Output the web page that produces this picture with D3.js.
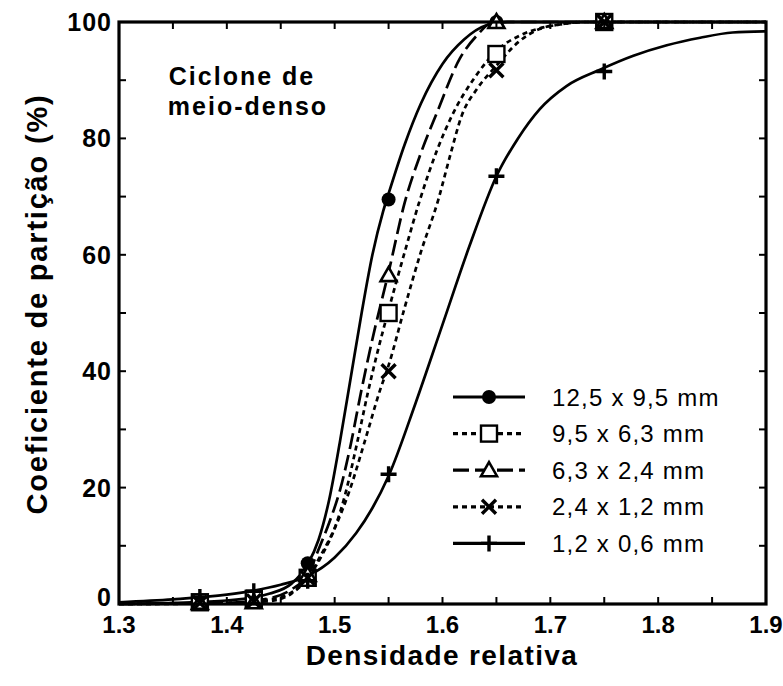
<!DOCTYPE html>
<html><head><meta charset="utf-8">
<script src="https://cdn.jsdelivr.net/npm/d3@7"></script>
<style>body{margin:0;background:#fff}svg{display:block}text{font-family:Arial,"Liberation Sans",sans-serif}</style>
</head><body>
<svg id="c" width="783" height="686"></svg>
<script>
const seriesNames = ["12,5 x 9,5 mm","9,5 x 6,3 mm","6,3 x 2,4 mm","2,4 x 1,2 mm","1,2 x 0,6 mm"];
const xTicks = [1.3,1.4,1.5,1.6,1.7,1.8,1.9];
const yTicks = [0,20,40,60,80,100];
// measured points (density, partition %)
const pts1 = [[1.375,0.3],[1.425,0.8],[1.475,7],[1.55,69.5],[1.65,100],[1.75,100]];
const pts2 = [[1.375,0.3],[1.425,0.9],[1.475,4.5],[1.55,50],[1.65,94.5],[1.75,100]];
const pts3 = [[1.375,0.2],[1.425,0.3],[1.475,5],[1.55,56.5],[1.65,100],[1.75,100]];
const pts4 = [[1.375,0.2],[1.425,0.5],[1.475,4.5],[1.55,40],[1.65,91.7],[1.75,100]];
const pts5 = [[1.375,1.2],[1.425,2.2],[1.475,4],[1.55,22.3],[1.65,73.5],[1.75,91.5]];
// fitted curves
const curve1 = [[1.30,0],[1.35,0.2],[1.40,0.6],[1.44,1.8],[1.46,3.5],[1.475,6.8],[1.485,11],[1.495,18],[1.505,28],[1.515,39],[1.525,50],[1.535,60],[1.545,67.5],[1.55,70.5],[1.565,79],[1.58,86],[1.60,92.8],[1.62,97],[1.64,99.4],[1.66,100],[1.90,100]];
const curve2 = [[1.30,0],[1.40,0.2],[1.44,0.8],[1.46,2],[1.475,4.5],[1.49,9],[1.50,13],[1.51,19],[1.52,27],[1.531,36.5],[1.54,43.5],[1.55,50.5],[1.565,60.5],[1.579,69.4],[1.595,78],[1.609,84],[1.63,90.5],[1.651,95.2],[1.672,97.7],[1.69,98.9],[1.71,99.6],[1.73,100],[1.90,100]];
const curve3 = [[1.30,0],[1.40,0.2],[1.44,1],[1.46,2.5],[1.475,5],[1.486,9.8],[1.495,14],[1.505,19.6],[1.515,27.5],[1.524,36],[1.535,45.5],[1.55,57],[1.565,69],[1.58,77.5],[1.595,84.5],[1.616,93.7],[1.632,97.7],[1.645,99.8],[1.66,100],[1.90,100]];
const curve4 = [[1.30,0],[1.40,0.1],[1.44,0.5],[1.46,1.8],[1.475,4.5],[1.486,8],[1.50,13],[1.514,19.6],[1.528,28],[1.542,36.7],[1.55,41],[1.565,51],[1.58,60.5],[1.596,69.4],[1.607,77],[1.618,84],[1.632,88.5],[1.65,92.5],[1.67,96.5],[1.69,98.8],[1.71,99.6],[1.73,100],[1.90,100]];
const curve5 = [[1.30,0.3],[1.35,0.8],[1.40,1.6],[1.425,2.3],[1.45,3.3],[1.475,4.8],[1.50,8],[1.52,12.2],[1.535,16.5],[1.55,22],[1.575,34.5],[1.60,48],[1.625,61.5],[1.65,73.5],[1.67,80],[1.69,85],[1.715,89],[1.746,91.8],[1.777,94.2],[1.808,96],[1.839,97.3],[1.869,98.2],[1.90,98.4]];

const L=119,R=766,T=22,B=604;
const x=d3.scaleLinear().domain([1.3,1.9]).range([L,R]);
const y=d3.scaleLinear().domain([0,100]).range([B,T]);
const svg=d3.select("#c");

const styles=[
 {dash:null, marker:"circle"},
 {dash:"5,4", marker:"square"},
 {dash:"16,6", marker:"triangle"},
 {dash:"5,4", marker:"cross"},
 {dash:null, marker:"plus"}];
const curves=[curve1,curve2,curve3,curve4,curve5];
const pts=[pts1,pts2,pts3,pts4,pts5];

const line=d3.line().x(d=>x(d[0])).y(d=>y(d[1])).curve(d3.curveMonotoneX);
svg.append("clipPath").attr("id","pc").append("rect").attr("x",L).attr("y",T-2).attr("width",R-L).attr("height",B-T+4);
const g=svg.append("g").attr("clip-path","url(#pc)");
curves.forEach((c,i)=>{
  g.append("path").attr("d",line(c)).attr("fill","none").attr("stroke","#000")
   .attr("stroke-width",2.7).attr("stroke-dasharray",styles[i].dash);
});

function marker(sel,type,cx,cy){
  if(type==="circle") sel.append("circle").attr("cx",cx).attr("cy",cy).attr("r",7).attr("fill","#000");
  else if(type==="square") sel.append("rect").attr("x",cx-8).attr("y",cy-8).attr("width",16).attr("height",16).attr("fill","#fff").attr("stroke","#000").attr("stroke-width",2.4);
  else if(type==="triangle") sel.append("path").attr("d",`M${cx},${cy-8}L${cx+8},${cy+6}L${cx-8},${cy+6}Z`).attr("fill","#fff").attr("stroke","#000").attr("stroke-width",2.6).attr("stroke-linejoin","miter");
  else if(type==="cross") sel.append("path").attr("d",`M${cx-7},${cy-7}L${cx+7},${cy+7}M${cx+7},${cy-7}L${cx-7},${cy+7}`).attr("stroke","#000").attr("stroke-width",3.4);
  else if(type==="plus") sel.append("path").attr("d",`M${cx-8},${cy}L${cx+8},${cy}M${cx},${cy-8}L${cx},${cy+8}`).attr("stroke","#000").attr("stroke-width",3.4);
}
const mg=svg.append("g");
pts.forEach((p,i)=>p.forEach(d=>marker(mg,styles[i].marker,x(d[0]),y(d[1]))));

// frame & ticks
const fr=svg.append("g");
const xMinor=d3.range(1.3,1.9001,0.05), yMinor=d3.range(0,100.01,10);
xMinor.forEach(v=>{
  fr.append("line").attr("x1",x(v)).attr("x2",x(v)).attr("y1",B).attr("y2",B-7).attr("stroke","#000").attr("stroke-width",2);
  fr.append("line").attr("x1",x(v)).attr("x2",x(v)).attr("y1",T).attr("y2",T+7).attr("stroke","#000").attr("stroke-width",2);
});
yMinor.forEach(v=>{
  fr.append("line").attr("x1",L).attr("x2",L+7).attr("y1",y(v)).attr("y2",y(v)).attr("stroke","#000").attr("stroke-width",2);
  fr.append("line").attr("x1",R).attr("x2",R-7).attr("y1",y(v)).attr("y2",y(v)).attr("stroke","#000").attr("stroke-width",2);
});
fr.append("rect").attr("x",L).attr("y",T).attr("width",R-L).attr("height",B-T).attr("fill","none").attr("stroke","#000").attr("stroke-width",3.2);

// tick labels
svg.append("g").selectAll("text").data(xTicks).join("text")
 .attr("x",d=>x(d)).attr("y",633).attr("text-anchor","middle")
 .attr("font-size",24).attr("font-weight","bold").text(d=>d.toFixed(1));
svg.append("g").selectAll("text").data(yTicks).join("text")
 .attr("x",112).attr("y",d=>y(d)+(d===0?2:9)).attr("text-anchor","end")
 .attr("font-size",25).attr("font-weight","bold").attr("letter-spacing",1).text(d=>d);

// axis titles
svg.append("text").attr("x",442).attr("y",665).attr("text-anchor","middle")
 .attr("font-size",28).attr("font-weight","bold").attr("letter-spacing",1.4).text("Densidade relativa");
svg.append("text").attr("transform","translate(47,304) rotate(-90)").attr("text-anchor","middle")
 .attr("font-size",29).attr("font-weight","bold").attr("letter-spacing",1.8).text("Coeficiente de partição (%)");

// annotation
const an=svg.append("text").attr("font-size",25).attr("font-weight","bold").attr("letter-spacing",2).attr("text-anchor","middle");
an.append("tspan").attr("x",242).attr("y",85).text("Ciclone de");
an.append("tspan").attr("x",248).attr("y",115).text("meio-denso");

// legend
const lg=svg.append("g");
seriesNames.forEach((n,i)=>{
  const ly=397+i*36.6;
  lg.append("line").attr("x1",453).attr("x2",525).attr("y1",ly).attr("y2",ly).attr("stroke","#000").attr("stroke-width",3.2)
    .attr("stroke-dasharray",styles[i].dash);
  marker(lg,styles[i].marker,489,ly);
  lg.append("text").attr("x",552).attr("y",ly+8.5).attr("font-size",24).attr("letter-spacing",1.2).text(n);
});
</script>
</body></html>
